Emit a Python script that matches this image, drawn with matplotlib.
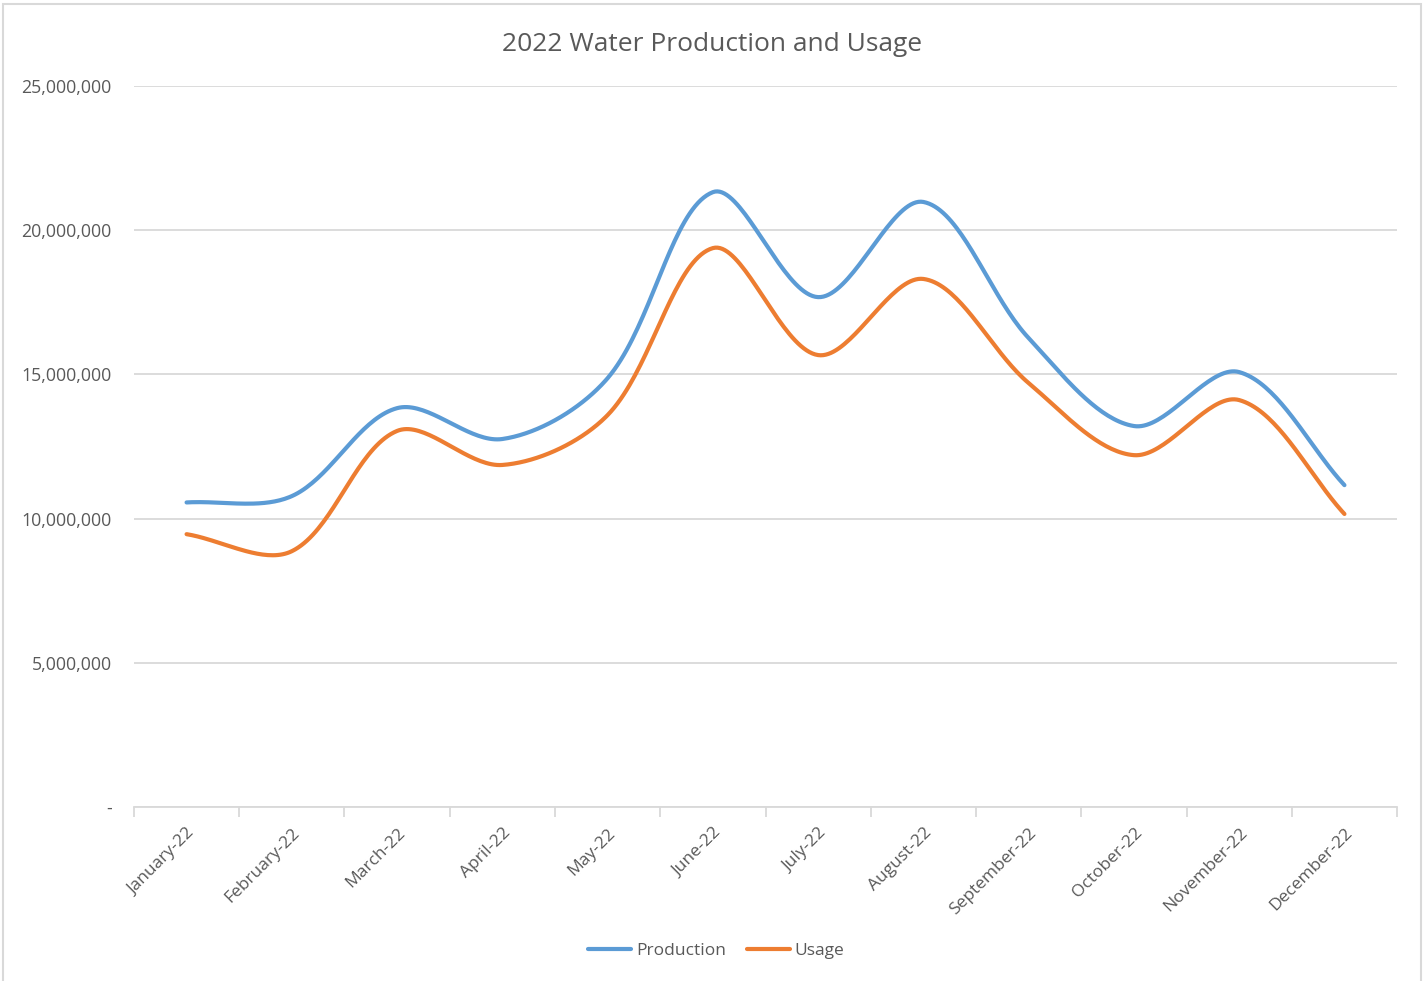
import numpy as np
import matplotlib
matplotlib.use("Agg")
import matplotlib.pyplot as plt
from matplotlib.lines import Line2D
from matplotlib.patches import Rectangle
from matplotlib.ticker import FuncFormatter, FixedLocator

months = ["January-22", "February-22", "March-22", "April-22", "May-22", "June-22",
          "July-22", "August-22", "September-22", "October-22", "November-22", "December-22"]
production = [10.56e6, 10.78e6, 13.83e6, 12.76e6, 14.87e6, 21.32e6,
              17.68e6, 20.98e6, 16.26e6, 13.21e6, 15.08e6, 11.16e6]
usage = [9.46e6, 8.87e6, 13.04e6, 11.86e6, 13.59e6, 19.38e6,
         15.67e6, 18.31e6, 14.7e6, 12.2e6, 14.11e6, 10.16e6]

BLUE = "#5B9BD5"
ORANGE = "#ED7D31"
GRID = "#D9D9D9"
TEXT = "#595959"

plt.rcParams['font.family'] = ['Open Sans', 'DejaVu Sans']

# rough pixel scale of the plot area, used to weight the curve tangents
PX_X = 105.25          # px per category
PX_Y = 144.2 / 5e6     # px per unit


def smooth(values, n=40):
    """Excel-like smoothed line: bezier segments, tangents weighted by chord length."""
    y = np.asarray(values, dtype=float) * PX_Y
    x = np.arange(len(y), dtype=float) * PX_X
    pts = np.column_stack([x, y])
    m = len(pts)
    d = np.linalg.norm(np.diff(pts, axis=0), axis=1)
    out = []
    for i in range(m - 1):
        p1, p2 = pts[i], pts[i + 1]
        if i == 0:
            c1 = p1 + (p2 - p1) / 3
        else:
            t1 = p2 - pts[i - 1]
            c1 = p1 + t1 * d[i] / (d[i - 1] + d[i]) / 3
        if i == m - 2:
            c2 = p2 - (p2 - p1) / 3
        else:
            t2 = pts[i + 2] - p1
            c2 = p2 - t2 * d[i] / (d[i] + d[i + 1]) / 3
        t = np.linspace(0, 1, n)[:, None]
        seg = ((1 - t) ** 3) * p1 + 3 * ((1 - t) ** 2) * t * c1 + 3 * (1 - t) * t ** 2 * c2 + t ** 3 * p2
        out.append(seg if i == 0 else seg[1:])
    out = np.vstack(out)
    return out[:, 0] / PX_X, out[:, 1] / PX_Y


fig = plt.figure(figsize=(14.25, 9.81), dpi=100)
ax = fig.add_axes([0.094, 0.1774, 0.8864, 0.7349])

for vals, col in [(production, BLUE), (usage, ORANGE)]:
    sx, sy = smooth(vals)
    ax.plot(sx, sy, color=col, lw=3, solid_capstyle='round', zorder=3)

ax.set_xlim(-0.5, len(months) - 0.5)
ax.set_ylim(0, 25e6)
ax.set_yticks(np.arange(0, 25e6 + 1, 5e6))
ax.yaxis.set_major_formatter(FuncFormatter(lambda v, p: "-" if v == 0 else f"{v:,.0f}"))
ax.grid(axis='y', color=GRID, lw=1.3)
ax.set_axisbelow(True)

ax.set_xticks(np.arange(len(months)))
ax.set_xticklabels(months, rotation=45, ha='right', va='top', rotation_mode='anchor')
ax.xaxis.set_minor_locator(FixedLocator(np.arange(-0.5, len(months), 1.0)))
ax.tick_params(axis='x', which='major', length=0, pad=13, labelsize=12.5, labelcolor=TEXT)
ax.tick_params(axis='x', which='minor', length=7, width=1.3, color=GRID, direction='out')
ax.tick_params(axis='y', length=0, pad=16, labelsize=12.8, labelcolor=TEXT)

for s in ['top', 'right', 'left']:
    ax.spines[s].set_visible(False)
ax.spines['bottom'].set_color(GRID)
ax.spines['bottom'].set_linewidth(1.3)

fig.text(0.5, 0.955, "2022 Water Production and Usage", ha='center', va='center',
         fontsize=19, color=TEXT)

handles = [Line2D([], [], color=BLUE, lw=3, solid_capstyle='round'),
           Line2D([], [], color=ORANGE, lw=3, solid_capstyle='round')]
fig.legend(handles, ["Production", "Usage"], loc='center', bbox_to_anchor=(0.5025, 0.031),
           ncol=2, frameon=False, fontsize=12.5, handlelength=2.5, handletextpad=0.25,
           columnspacing=1.2, labelcolor=TEXT)

fig.patches.append(Rectangle((0.002, -0.01), 0.995, 1.006, transform=fig.transFigure,
                             fill=False, edgecolor=GRID, lw=1.5))

fig.savefig("out.png", dpi=100)
